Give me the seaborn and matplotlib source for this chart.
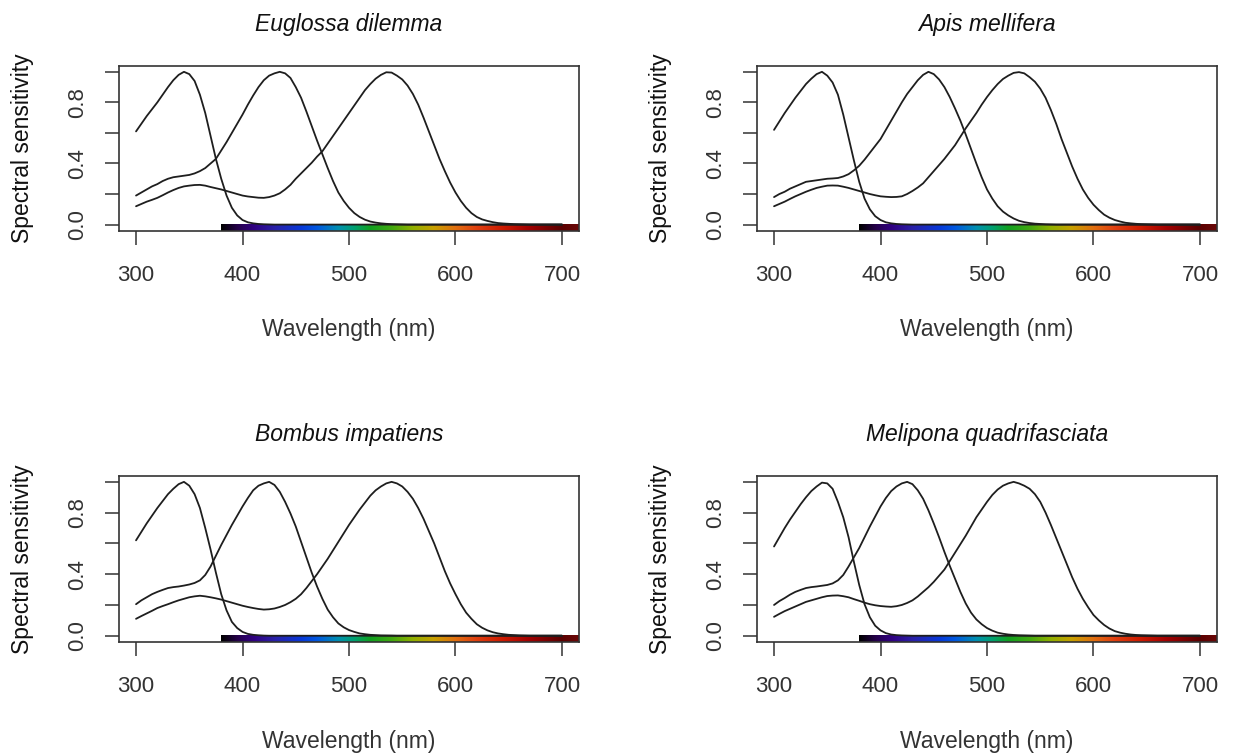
import numpy as np
import pandas as pd
import matplotlib
matplotlib.use("Agg")
import matplotlib.pyplot as plt
from matplotlib.colors import LinearSegmentedColormap
import seaborn as sns

# ---------------- data ----------------
# readings every 5 nm from 300 nm; each curve is 0 beyond its last listed value
WL_START, WL_STEP, WL_END = 300, 5, 700

SPECIES = ["Euglossa dilemma", "Apis mellifera",
           "Bombus impatiens", "Melipona quadrifasciata"]
RECEPTORS = ["UV", "Blue", "Green"]

# Euglossa dilemma
EUG_UV = [.61, .66, .71, .755, .80, .85, .90, .945, .98, 1.0, .985, .94, .85, .73, .58,
          .43, .30, .19, .11, .06, .03, .015, .008, .004, .002, .001]
EUG_BLUE = [.19, .21, .23, .25, .265, .285, .30, .31, .315, .32, .325, .335, .35, .37, .40,
            .43, .485, .54, .60, .66, .72, .785, .845, .90, .945, .975, .99, 1.0, .99, .96,
            .90, .83, .74, .645, .55, .46, .37, .285, .21, .155, .11, .075, .05, .032, .02,
            .013, .008, .005, .003, .002, .001]
EUG_GREEN = [.12, .135, .15, .162, .175, .192, .21, .226, .24, .25, .255, .259, .26, .255, .246,
             .238, .23, .22, .21, .20, .19, .184, .18, .176, .175, .18, .19, .205, .23, .26,
             .30, .335, .37, .405, .445, .48, .53, .58, .63, .68, .73, .78, .83, .88, .92,
             .955, .98, .997, .995, .975, .95, .91, .855, .785, .70, .61, .52, .43, .35, .275,
             .21, .155, .11, .075, .05, .034, .024, .016, .01, .007, .005, .003, .002, .001]

# Apis mellifera
API_UV = [.62, .675, .73, .78, .83, .875, .92, .955, .985, 1.0, .975, .93, .85, .72, .57,
          .42, .28, .17, .10, .055, .03, .015, .008, .004, .002, .001]
API_BLUE = [.18, .20, .215, .235, .25, .265, .28, .285, .29, .295, .30, .302, .305, .315, .33,
            .355, .385, .425, .47, .515, .56, .62, .68, .74, .80, .855, .90, .945, .98, 1.0,
            .985, .95, .90, .835, .76, .68, .59, .495, .40, .31, .23, .17, .12, .085, .06,
            .04, .025, .016, .01, .006, .004, .002, .001]
API_GREEN = [.12, .135, .15, .168, .185, .20, .215, .228, .24, .248, .255, .256, .255, .248, .24,
             .23, .22, .21, .20, .192, .185, .182, .18, .181, .185, .20, .22, .243, .27, .31,
             .35, .39, .43, .475, .52, .575, .63, .68, .73, .785, .835, .88, .92, .953, .975,
             .993, .998, .99, .965, .935, .89, .83, .75, .66, .56, .47, .38, .30, .23, .175,
             .13, .095, .065, .045, .03, .02, .012, .008, .005, .003, .002, .001]

# Bombus impatiens
BOM_UV = [.62, .675, .73, .78, .83, .875, .92, .955, .985, 1.0, .975, .92, .83, .70, .56,
          .41, .27, .165, .09, .05, .025, .012, .006, .003, .001]
BOM_BLUE = [.205, .23, .25, .27, .285, .298, .31, .316, .32, .326, .333, .343, .36, .395, .45,
            .52, .59, .655, .72, .78, .84, .895, .945, .975, .99, 1.0, .98, .935, .87, .795,
            .71, .61, .51, .41, .32, .24, .17, .12, .08, .055, .037, .025, .015, .01, .006,
            .004, .002, .0015, .001]
BOM_GREEN = [.11, .128, .145, .162, .18, .193, .205, .218, .23, .24, .25, .256, .26, .256, .25,
             .243, .235, .225, .215, .205, .195, .187, .18, .174, .17, .172, .177, .187, .20, .218,
             .24, .27, .31, .355, .40, .45, .50, .555, .61, .665, .72, .77, .82, .865, .91,
             .945, .97, .99, 1.0, .99, .97, .935, .89, .83, .76, .68, .60, .51, .42, .34,
             .27, .205, .15, .11, .075, .052, .035, .023, .015, .01, .006, .004, .002, .001]

# Melipona quadrifasciata
MEL_UV = [.58, .64, .70, .755, .805, .855, .90, .94, .97, .995, .99, .955, .87, .77, .64,
          .48, .33, .205, .12, .065, .035, .017, .008, .004, .002, .001]
MEL_BLUE = [.20, .225, .245, .267, .285, .298, .31, .316, .32, .325, .33, .34, .36, .395, .45,
            .51, .57, .64, .71, .775, .84, .895, .94, .97, .99, 1.0, .985, .945, .89, .815,
            .73, .64, .545, .455, .37, .285, .21, .15, .106, .075, .05, .033, .02, .013, .008,
            .005, .003, .002, .001]
MEL_GREEN = [.123, .142, .16, .175, .19, .205, .22, .23, .24, .25, .258, .261, .262, .257, .25,
             .238, .227, .215, .205, .198, .193, .19, .188, .192, .20, .213, .23, .255, .285, .315,
             .35, .39, .43, .485, .54, .595, .65, .71, .77, .82, .87, .915, .95, .975, .99,
             1.0, .99, .975, .955, .92, .87, .80, .72, .635, .55, .465, .38, .305, .24, .185,
             .135, .10, .07, .047, .03, .02, .013, .008, .005, .003, .002, .001]

CURVES = {
    "Euglossa dilemma": [EUG_UV, EUG_BLUE, EUG_GREEN],
    "Apis mellifera": [API_UV, API_BLUE, API_GREEN],
    "Bombus impatiens": [BOM_UV, BOM_BLUE, BOM_GREEN],
    "Melipona quadrifasciata": [MEL_UV, MEL_BLUE, MEL_GREEN],
}

X_TICKS = [300, 400, 500, 600, 700]
Y_TICKS = [0.0, 0.2, 0.4, 0.6, 0.8, 1.0]
Y_TICK_LABELS = ["0.0", "", "0.4", "", "0.8", ""]

# visible spectrum strip colours (decoration)
SPEC_WL = [380, 395, 410, 430, 455, 470, 490, 505, 520, 540, 560, 580, 600, 620, 645, 670, 700, 716]
SPEC_COL = ["#000000", "#25004a", "#300080", "#2a20a8", "#0838d8", "#0058e0", "#0090b0",
            "#00a070", "#10a020", "#40a810", "#90b000", "#c8a000", "#e07010", "#e04010",
            "#cc1a00", "#a00000", "#5a0000", "#6a0808"]


def long_table(name):
    grid = list(range(WL_START, WL_END + 1, WL_STEP))
    rows = []
    for rec, vals in zip(RECEPTORS, CURVES[name]):
        full = list(vals) + [0.0] * (len(grid) - len(vals))
        for w, v in zip(grid, full):
            rows.append({"Wavelength": w, "Sensitivity": v, "Receptor": rec})
    return pd.DataFrame(rows)


# ---------------- plotting ----------------
sns.set_style("white")
plt.rcParams["font.family"] = ["Liberation Sans", "DejaVu Sans"]

W, H = 1239, 754
fig = plt.figure(figsize=(W / 100, H / 100), dpi=100)

# axes boxes in pixels: (left, top, right, bottom)
BOXES = [(119, 65.7, 579, 230.7), (757, 65.7, 1217, 230.7),
         (119, 475.7, 579, 641.9), (757, 475.7, 1217, 641.9)]

lo = [(w - 380) / (716 - 380) for w in SPEC_WL]
spec_cmap = LinearSegmentedColormap.from_list("spec", list(zip(lo, SPEC_COL)))

for name, (l, t, r, b) in zip(SPECIES, BOXES):
    ax = fig.add_axes([l / W, 1 - b / H, (r - l) / W, (b - t) / H])
    df = long_table(name)
    ax.imshow(np.linspace(0, 1, 512)[None, :], extent=(380, 716, -0.04, 0.0),
              aspect="auto", cmap=spec_cmap, interpolation="bilinear", zorder=1)
    sns.lineplot(data=df, x="Wavelength", y="Sensitivity", hue="Receptor",
                 palette={k: "#1e1e1e" for k in RECEPTORS}, legend=False,
                 estimator=None, sort=True, linewidth=1.3, ax=ax, zorder=3)
    ax.set_xlim(284, 716)
    ax.set_ylim(-0.04, 1.04)
    ax.set_xticks(X_TICKS)
    ax.set_xticklabels([str(v) for v in X_TICKS])
    ax.set_yticks(Y_TICKS)
    ax.set_yticklabels(Y_TICK_LABELS)
    ax.tick_params(axis="both", direction="out", length=10, width=1.1,
                   color="#333333", labelsize=16, labelcolor="#333333",
                   bottom=True, left=True, top=False, right=False)
    ax.tick_params(axis="x", pad=14.5)
    ax.tick_params(axis="y", pad=12.5)
    for lab in ax.get_yticklabels():
        lab.set_rotation(90)
        lab.set_va("center")
    for sp in ax.spines.values():
        sp.set_visible(True)
        sp.set_linewidth(1.2)
        sp.set_color("#333333")
    ax.set_title(name, fontstyle="italic", fontsize=16.5, pad=25, color="#111111")
    ax.set_xlabel("Wavelength (nm)", fontsize=16.5, color="#333333")
    ax.set_ylabel("Spectral sensitivity", fontsize=16.5, color="#111111")
    ax.xaxis.set_label_coords(0.5, -0.53)
    ax.yaxis.set_label_coords(-0.185, 0.5)

fig.savefig("out.png", dpi=100, facecolor="white")
